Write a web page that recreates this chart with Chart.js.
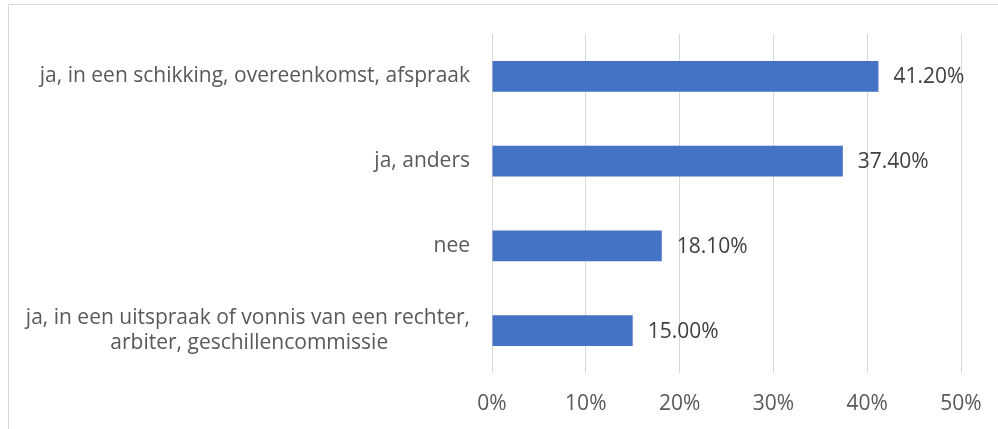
<!DOCTYPE html>
<html>
<head>
<meta charset="utf-8">
<script src="https://cdn.jsdelivr.net/npm/chart.js@4"></script>
<style>
  html, body { margin: 0; padding: 0; background: #fff; }
  #wrap { width: 998px; height: 429px; position: relative; }
</style>
</head>
<body>
<div id="wrap"><canvas id="c" width="998" height="429"></canvas></div>
<script>
const categories = [
  ["ja, in een schikking, overeenkomst, afspraak"],
  ["ja, anders"],
  ["nee"],
  ["ja, in een uitspraak of vonnis van een rechter,", "arbiter, geschillencommissie"]
];
const values = [41.2, 37.4, 18.1, 15.0];
const xTicks = [0, 10, 20, 30, 40, 50];

const FONT = "'Open Sans', sans-serif";
const FSIZE = 21;

const measureCtx = document.createElement('canvas').getContext('2d');
measureCtx.font = FSIZE + "px " + FONT;
function centerLines(lines) {
  if (lines.length < 2) return lines.length === 1 ? lines[0] : lines;
  const widths = lines.map(l => measureCtx.measureText(l).width);
  const maxW = Math.max(...widths);
  const sp = measureCtx.measureText(' ').width;
  return lines.map((l, i) => {
    const n = Math.round((maxW - widths[i]) / 2 / sp);
    return l + ' '.repeat(n);
  });
}

const frame = {
  id: 'frame',
  beforeDraw(chart) {
    const ctx = chart.ctx;
    ctx.save();
    ctx.strokeStyle = '#D9D9D9';
    ctx.lineWidth = 1;
    ctx.beginPath();
    ctx.moveTo(8.5, 429);
    ctx.lineTo(8.5, 4.5);
    ctx.lineTo(998, 4.5);
    ctx.stroke();
    ctx.restore();
  }
};

const dataLabels = {
  id: 'dataLabels',
  afterDatasetsDraw(chart) {
    const ctx = chart.ctx;
    const meta = chart.getDatasetMeta(0);
    ctx.save();
    ctx.font = FSIZE + "px " + FONT;
    ctx.fillStyle = '#404040';
    ctx.textAlign = 'left';
    ctx.textBaseline = 'middle';
    meta.data.forEach((bar, i) => {
      ctx.fillText(values[i].toFixed(2) + '%', bar.x + 15, bar.y + 1);
    });
    ctx.restore();
  }
};

new Chart(document.getElementById('c'), {
  type: 'bar',
  data: {
    labels: categories.map(centerLines),
    datasets: [{
      data: values,
      backgroundColor: '#4472C4',
      borderWidth: 0,
      barPercentage: 0.36,
      categoryPercentage: 1.0
    }]
  },
  options: {
    indexAxis: 'y',
    responsive: false,
    animation: false,
    devicePixelRatio: 1,
    layout: { padding: { left: 0, right: 37, top: 34, bottom: 0 } },
    plugins: { legend: { display: false }, tooltip: { enabled: false } },
    scales: {
      x: {
        min: 0, max: 50,
        afterBuildTicks(scale) { scale.ticks = xTicks.map(v => ({ value: v })); },
        afterFit(scale) { scale.height = 56; scale.paddingLeft = 0; scale.paddingRight = 0; },
        grid: { color: '#D9D9D9', lineWidth: 1, drawTicks: false },
        border: { display: false },
        ticks: {
          padding: 18,
          color: '#595959',
          font: { family: FONT, size: FSIZE },
          callback: v => v + '%'
        }
      },
      y: {
        afterFit(scale) { scale.width = 492; scale.paddingTop = 0; scale.paddingBottom = 0; },
        grid: { display: false, drawTicks: false },
        border: { display: false },
        ticks: {
          padding: 22,
          color: '#595959',
          font: { family: FONT, size: FSIZE, lineHeight: 1.2 },
          autoSkip: false
        }
      }
    }
  },
  plugins: [frame, dataLabels]
});
</script>
</body>
</html>
